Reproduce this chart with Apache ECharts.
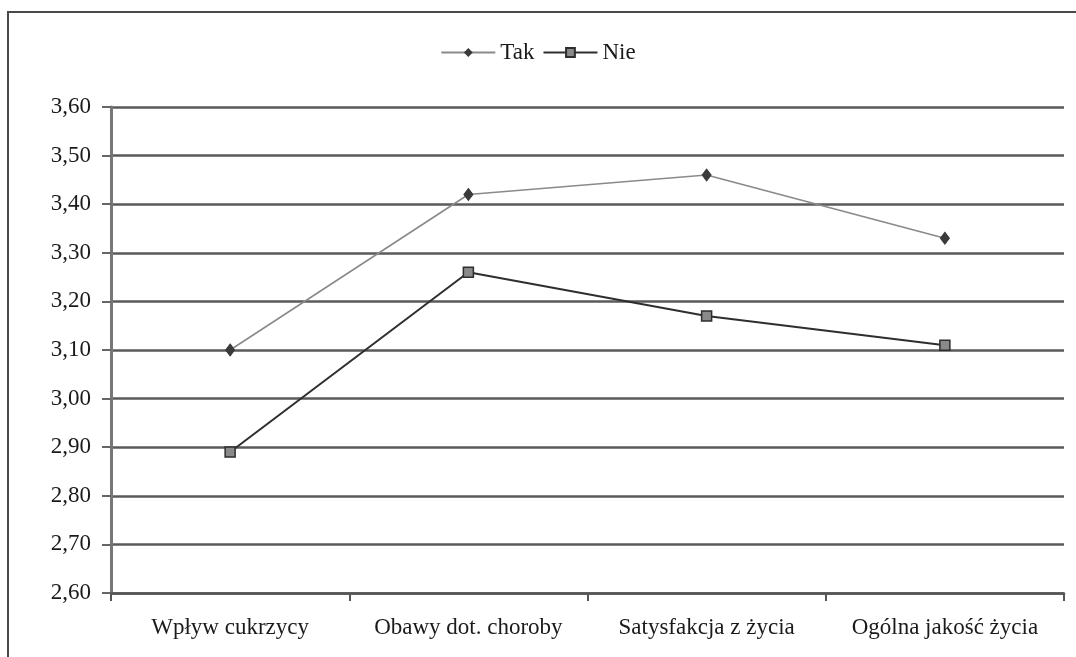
<!DOCTYPE html>
<html>
<head>
<meta charset="utf-8">
<script src="https://cdn.jsdelivr.net/npm/echarts@6/dist/echarts.min.js"></script>
<style>
html,body{margin:0;padding:0;background:#fff;}
#chart{width:1076px;height:657px;}
</style>
</head>
<body>
<div id="chart"></div>
<script>
const categories = ['Wpływ cukrzycy', 'Obawy dot. choroby', 'Satysfakcja z życia', 'Ogólna jakość życia'];
const takValues = [3.10, 3.42, 3.46, 3.33];
const nieValues = [2.89, 3.26, 3.17, 3.11];
const seriesNames = ['Tak', 'Nie'];

const font = 'Liberation Serif';
const chart = echarts.init(document.getElementById('chart'));
chart.setOption({
  backgroundColor: '#fff',
  animation: false,
  graphic: [{
    type: 'rect',
    shape: { x: 8, y: 12, width: 1200, height: 800 },
    style: { fill: 'none', stroke: '#4a4a4a', lineWidth: 2 },
    silent: true
  }],
  legend: {
    top: 36,
    left: 'center',
    itemWidth: 54,
    itemHeight: 11,
    itemGap: 8,
    textStyle: { fontFamily: font, fontSize: 23, color: '#1a1a1a' },
    data: seriesNames
  },
  grid: { left: 111, right: 12, top: 107, bottom: 64, containLabel: false },
  xAxis: {
    type: 'category',
    data: categories,
    boundaryGap: true,
    axisLine: { lineStyle: { color: '#555', width: 2.5 } },
    axisTick: { show: true, interval: 0, length: 8, lineStyle: { color: '#555', width: 2 } },
    axisLabel: { interval: 0, hideOverlap: false, fontFamily: font, fontSize: 23, color: '#1a1a1a', margin: 23 },
    splitLine: { show: false }
  },
  yAxis: {
    type: 'value',
    min: 2.6,
    max: 3.6,
    interval: 0.1,
    axisLine: { show: true, lineStyle: { color: '#777', width: 3 } },
    axisTick: { show: true, length: 9, lineStyle: { color: '#666', width: 2 } },
    axisLabel: {
      fontFamily: font, fontSize: 23, color: '#1a1a1a', margin: 20,
      formatter: v => v.toFixed(2).replace('.', ',')
    },
    splitLine: { show: true, lineStyle: { color: '#5a5a5a', width: 2.5 } }
  },
  series: [
    {
      name: seriesNames[0],
      type: 'line',
      data: takValues,
      symbol: 'diamond',
      symbolSize: [9, 12],
      lineStyle: { color: '#8a8a8a', width: 1.6 },
      itemStyle: { color: '#3a3a3a', borderColor: '#3a3a3a' },
      z: 3
    },
    {
      name: seriesNames[1],
      type: 'line',
      data: nieValues,
      symbol: 'rect',
      symbolSize: 10,
      lineStyle: { color: '#2e2e2e', width: 2 },
      itemStyle: { color: '#8a8a8a', borderColor: '#2e2e2e', borderWidth: 1.5 },
      z: 3
    }
  ]
});
</script>
</body>
</html>
